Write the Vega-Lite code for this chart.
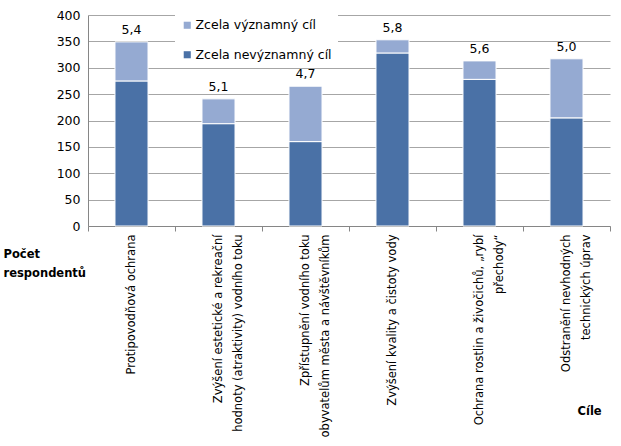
{
  "$schema": "https://vega.github.io/schema/vega-lite/v6.json",
  "autosize": {"type": "none"},
  "padding": {"left": 88, "top": 15, "right": 11, "bottom": 220},
  "width": 522,
  "height": 211,
  "background": "white",
  "config": {
    "font": "DejaVu Sans",
    "view": {"stroke": null}
  },
  "datasets": {
    "bars": [
      {"cil": "Protipovodňová ochrana", "hodnoceni": "Zcela nevýznamný cíl", "pocet": 275},
      {"cil": "Protipovodňová ochrana", "hodnoceni": "Zcela významný cíl", "pocet": 74},
      {"cil": "Zvýšení estetické a rekreační|hodnoty (atraktivity) vodního toku", "hodnoceni": "Zcela nevýznamný cíl", "pocet": 194},
      {"cil": "Zvýšení estetické a rekreační|hodnoty (atraktivity) vodního toku", "hodnoceni": "Zcela významný cíl", "pocet": 47},
      {"cil": "Zpřístupnění vodního toku|obyvatelům města a návštěvníkům", "hodnoceni": "Zcela nevýznamný cíl", "pocet": 160},
      {"cil": "Zpřístupnění vodního toku|obyvatelům města a návštěvníkům", "hodnoceni": "Zcela významný cíl", "pocet": 105},
      {"cil": "Zvýšení kvality a čistoty vody", "hodnoceni": "Zcela nevýznamný cíl", "pocet": 328},
      {"cil": "Zvýšení kvality a čistoty vody", "hodnoceni": "Zcela významný cíl", "pocet": 25},
      {"cil": "Ochrana rostlin a živočichů, „rybí|přechody“", "hodnoceni": "Zcela nevýznamný cíl", "pocet": 278},
      {"cil": "Ochrana rostlin a živočichů, „rybí|přechody“", "hodnoceni": "Zcela významný cíl", "pocet": 35},
      {"cil": "Odstranění nevhodných|technických úprav", "hodnoceni": "Zcela nevýznamný cíl", "pocet": 205},
      {"cil": "Odstranění nevhodných|technických úprav", "hodnoceni": "Zcela významný cíl", "pocet": 112}
    ],
    "totals": [
      {"cil": "Protipovodňová ochrana", "celkem": 349, "prumer": "5,4"},
      {"cil": "Zvýšení estetické a rekreační|hodnoty (atraktivity) vodního toku", "celkem": 241, "prumer": "5,1"},
      {"cil": "Zpřístupnění vodního toku|obyvatelům města a návštěvníkům", "celkem": 265, "prumer": "4,7"},
      {"cil": "Zvýšení kvality a čistoty vody", "celkem": 353, "prumer": "5,8"},
      {"cil": "Ochrana rostlin a živočichů, „rybí|přechody“", "celkem": 313, "prumer": "5,6"},
      {"cil": "Odstranění nevhodných|technických úprav", "celkem": 317, "prumer": "5,0"}
    ]
  },
  "encoding": {
    "x": {
      "field": "cil",
      "type": "nominal",
      "sort": null,
      "scale": {"paddingInner": 0, "paddingOuter": 0},
      "axis": {
        "title": "Cíle",
        "titleFont": "DejaVu Sans",
        "titleFontWeight": "bold",
        "titleFontSize": 11.5,
        "titleColor": "black",
        "titleAnchor": "start",
        "titleAlign": "left",
        "titleBaseline": "top",
        "titleX": 489,
        "titleY": 179,
        "labelAngle": -90,
        "labelExpr": "datum.value ? split(datum.value, '|') : ''",
        "labelFontSize": 11.5,
        "labelColor": "black",
        "labelLineHeight": 20,
        "labelLimit": 400,
        "labelPadding": 3,
        "tickBand": "extent",
        "tickSize": 5,
        "tickColor": "#868686",
        "domainColor": "#868686",
        "grid": false
      }
    },
    "y": {
      "field": "pocet",
      "type": "quantitative",
      "scale": {"domain": [0, 400]},
      "axis": {
        "values": [0, 50, 100, 150, 200, 250, 300, 350, 400],
        "title": ["Počet", "respondentů"],
        "titleAngle": 0,
        "titleAlign": "left",
        "titleBaseline": "top",
        "titleX": -85,
        "titleY": 233,
        "titleFontSize": 11.5,
        "titleFontWeight": "bold",
        "titleColor": "black",
        "titleLineHeight": 19,
        "labelFontSize": 12.5,
        "labelColor": "black",
        "labelPadding": 8,
        "labelOverlap": false,
        "ticks": false,
        "domainColor": "#868686",
        "gridColor": "#a6a6a6"
      }
    }
  },
  "layer": [
    {
      "data": {"name": "bars"},
      "mark": {"type": "bar", "width": {"band": 0.38}, "stroke": "white", "strokeWidth": 1},
      "encoding": {
        "y": {
          "field": "pocet",
          "type": "quantitative",
          "aggregate": "sum",
          "stack": "zero"
        },
        "color": {
          "field": "hodnoceni",
          "type": "nominal",
          "scale": {
            "domain": ["Zcela významný cíl", "Zcela nevýznamný cíl"],
            "range": ["#95aad2", "#4a71a6"]
          },
          "legend": {
            "title": null,
            "orient": "none",
            "legendX": 87,
            "legendY": -2,
            "fillColor": "white",
            "padding": 6,
            "symbolType": "square",
            "symbolSize": 50,
            "symbolStrokeWidth": 0,
            "labelFontSize": 12.5,
            "labelColor": "black",
            "labelOffset": 2,
            "rowPadding": 16.5
          }
        },
        "order": {"field": "hodnoceni", "sort": "ascending"}
      }
    },
    {
      "data": {"name": "totals"},
      "mark": {"type": "text", "baseline": "bottom", "dy": -5, "fontSize": 12.5, "color": "black"},
      "encoding": {
        "y": {"field": "celkem", "type": "quantitative"},
        "text": {"field": "prumer", "type": "nominal"}
      }
    }
  ]
}
